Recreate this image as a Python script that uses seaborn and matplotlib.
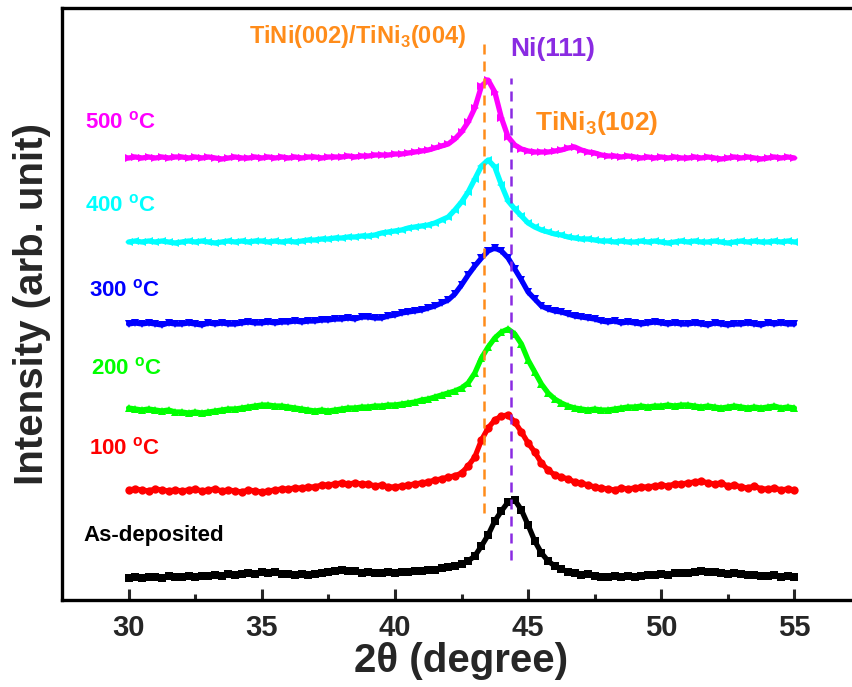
import numpy as np
import pandas as pd
import matplotlib
matplotlib.use("Agg")
import matplotlib.pyplot as plt
import seaborn as sns

# ---------------- data (relative intensity above each curve's baseline) -------------
two_theta = np.arange(30.0, 55.0001, 0.25)

as_dep = [0, 1, 0, 1, 1, 0, 2, 1, 1, 2, 1, 2, 2, 3, 2, 4, 3, 4, 5, 4,
          6, 5, 6, 4, 4, 3, 4, 3, 4, 5, 6, 7, 8, 7, 7, 5, 6, 5, 5, 6,
          5, 6, 6, 7, 7, 8, 8, 10, 11, 12, 14, 17, 22, 32, 43, 57, 67, 76, 78, 68,
          53, 37, 25, 17, 12, 9, 6, 5, 3, 4, 2, 1, 1, 2, 1, 2, 1, 2, 3, 3,
          4, 3, 5, 5, 5, 6, 7, 6, 6, 5, 4, 5, 4, 3, 3, 2, 2, 3, 1, 2, 1]
t100 = [0, 1, 0, -1, 1, 0, -1, 0, -1, 0, 1, -1, 0, 1, -1, 0, -1, -2, 0, -1,
        -2, -1, 0, 1, 1, 2, 2, 3, 3, 5, 5, 6, 7, 6, 7, 6, 6, 4, 5, 3,
        3, 4, 5, 6, 7, 8, 10, 11, 13, 14, 17, 24, 33, 50, 62, 70, 74, 75, 68, 58,
        47, 38, 27, 20, 15, 13, 11, 8, 7, 5, 3, 2, 1, 0, 2, 1, 2, 3, 3, 4,
        5, 4, 6, 6, 7, 8, 9, 7, 6, 7, 4, 5, 3, 2, 4, 1, 1, 2, 0, 1, 0]
t200 = [2, 1, 0, 1, 0, -1, 0, -2, -2, -3, -2, -3, -2, -1, 0, 1, 1, 2, 3, 4,
        5, 5, 4, 4, 3, 2, 1, 0, -1, 0, -1, 0, 1, 2, 2, 3, 3, 4, 4, 5,
        5, 6, 7, 8, 10, 11, 13, 15, 17, 19, 22, 27, 37, 52, 63, 72, 78, 81, 76, 66,
        50, 38, 26, 17, 11, 7, 4, 2, 1, 0, 1, 0, 0, 1, 2, 3, 3, 4, 3, 4,
        4, 5, 4, 5, 5, 4, 3, 4, 3, 2, 3, 4, 3, 2, 3, 2, 3, 4, 2, 3, 2]
t300 = [0, 1, 0, 1, 0, -1, 1, 0, 0, 1, 0, -1, 1, 0, 1, 0, 0, 1, 2, 1,
        1, 2, 1, 2, 2, 3, 2, 3, 3, 4, 4, 5, 5, 6, 5, 7, 7, 6, 6, 8,
        9, 11, 12, 13, 14, 16, 18, 21, 24, 30, 39, 49, 58, 66, 73, 76, 73, 66, 55, 44,
        32, 25, 18, 15, 13, 12, 10, 8, 7, 6, 5, 3, 2, 3, 1, 2, 1, 0, 1, 2,
        1, 0, 1, 0, 0, 1, 0, -1, 1, 0, -1, 0, 0, 1, 0, -1, 1, 0, 1, 0, 0]
t400 = [0, 1, 0, 1, 0, 1, 0, -1, 0, 1, 0, 1, 0, -1, 0, 1, 0, 1, 0, 1,
        1, 0, 1, 0, 1, 0, 1, 2, 2, 3, 3, 4, 4, 5, 5, 6, 6, 7, 9, 10,
        11, 12, 14, 15, 16, 17, 19, 22, 25, 32, 40, 50, 63, 76, 82, 75, 57, 41, 33, 26,
        19, 15, 12, 10, 8, 7, 5, 4, 3, 3, 2, 1, 1, 0, 1, 0, 0, 1, 0, 1,
        0, -1, 0, 1, 0, 1, 0, 0, 1, 0, -1, 0, 1, 0, 1, 0, 0, 1, 0, 1, 0]
t500 = [0, 1, 0, 1, 0, 1, 0, 1, 1, 0, 1, 0, 1, 0, -1, 0, 1, 0, 0, 1,
        0, 1, 0, 1, 0, 1, 0, 1, 1, 0, 1, 1, 1, 2, 1, 2, 2, 3, 3, 3,
        4, 4, 5, 6, 7, 8, 10, 12, 14, 19, 26, 36, 50, 72, 78, 66, 40, 21, 13, 9,
        7, 6, 6, 6, 7, 8, 10, 11, 8, 6, 5, 3, 2, 2, 1, 2, 1, 0, 1, 0,
        1, 0, 1, 0, 0, 1, 0, 1, 0, -1, 0, 1, 0, 1, 0, -1, 0, 1, 0, 1, 0]

sample_labels = ["As-deposited", "100", "200", "300", "400", "500"]
series = [as_dep, t100, t200, t300, t400, t500]
offsets = [22, 110, 190, 276, 358, 442]
colors = ["#000000", "#FF0000", "#00FF00", "#0000FF", "#00FFFF", "#FF00FF"]
markers = ["s", "o", "^", "v", "<", ">"]

peak_positions = [43.36, 44.37]
peak_colors = ["#FF8C1A", "#8A2BE2"]

# ---------------- plot ----------------
sns.set_style("white")
plt.rcParams["font.family"] = ["Liberation Sans", "DejaVu Sans"]
plt.rcParams["font.weight"] = "bold"
plt.rcParams["mathtext.fontset"] = "custom"
plt.rcParams["mathtext.rm"] = "Liberation Sans:bold"
plt.rcParams["mathtext.bf"] = "Liberation Sans:bold"

fig = plt.figure(figsize=(8.52, 6.87), dpi=100)
ax = fig.add_axes([62 / 852, 87 / 687, 799 / 852, 592 / 687])

for lab, vals, off, col, mk in zip(sample_labels, series, offsets, colors, markers):
    df = pd.DataFrame({"two_theta": two_theta, "I": np.array(vals, float) + off})
    sns.lineplot(data=df, x="two_theta", y="I", ax=ax, color=col, lw=3.8,
                 marker=mk, markersize=6, markeredgewidth=0, legend=False)

# reference lines
ax.vlines(peak_positions[0], 87, 563, colors=peak_colors[0], lw=1.8,
          linestyles=(0, (4, 2.8)))
ax.vlines(peak_positions[1], 40, 522, colors=peak_colors[1], lw=1.8,
          linestyles=(0, (4, 2.8)))

ax.text(42.68, 563, r"TiNi(002)/TiNi$_{3}$(004)", color=peak_colors[0],
        fontsize=17, fontweight="bold", ha="right", va="center")
ax.text(45.91, 551, "Ni(111)", color=peak_colors[1], fontsize=19,
        fontweight="bold", ha="center", va="center")
ax.text(47.56, 477, r"TiNi$_{3}$(102)", color=peak_colors[0], fontsize=19,
        fontweight="bold", ha="center", va="center")

fs = 16
label_pos = [(28.29, 65), (28.5, 152), (28.58, 232), (28.5, 310), (28.36, 395), (28.36, 478)]
for lab, (lx, ly), col in zip(sample_labels, label_pos, colors):
    txt = lab if lab == "As-deposited" else lab + r" $^{\mathbf{o}}$C"
    ax.text(lx, ly, txt, color=col, fontsize=fs, fontweight="bold",
            ha="left", va="center")

ax.set_xlim(27.5, 57.5)
ax.set_ylim(0, 592)
ax.set_xticks([30, 35, 40, 45, 50, 55])
ax.set_xticks([32.5, 37.5, 42.5, 47.5, 52.5], minor=True)
ax.set_yticks([])
ax.tick_params(axis="x", which="major", direction="in", length=8, width=2.2,
               labelsize=21, pad=10, bottom=True)
ax.tick_params(axis="x", which="minor", direction="in", length=4, width=2.2,
               bottom=True)
for lbl in ax.get_xticklabels():
    lbl.set_fontweight("bold")
for s in ["left", "top", "bottom"]:
    ax.spines[s].set_linewidth(2.4)
    ax.spines[s].set_color("black")
ax.spines["right"].set_visible(False)

ax.set_xlabel("2θ (degree)", fontsize=29, fontweight="bold", labelpad=0)
ax.set_ylabel("Intensity (arb. unit)", fontsize=29, fontweight="bold", labelpad=8)

fig.savefig("out.png", dpi=100)
